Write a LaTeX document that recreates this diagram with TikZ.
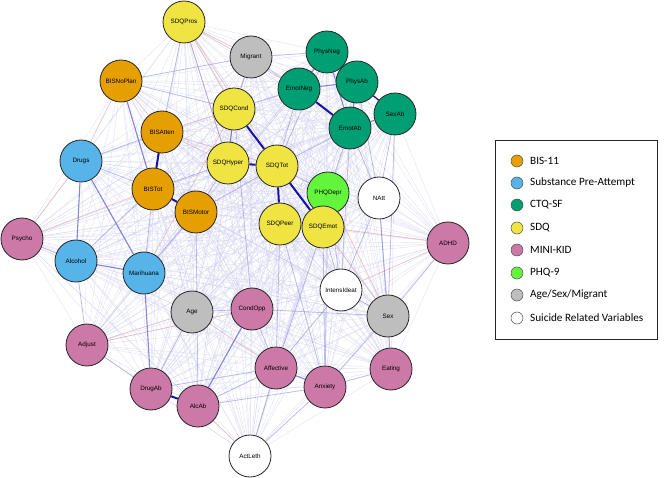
\documentclass[tikz,border=0pt]{standalone}
\usepackage{fontspec}
\setmainfont{Liberation Sans}
\newfontfamily\legfont{Carlito}
\usetikzlibrary{backgrounds}
\definecolor{cbis}{HTML}{E69F00}
\definecolor{csub}{HTML}{56B4E9}
\definecolor{cctq}{HTML}{009E73}
\definecolor{csdq}{HTML}{F0E442}
\definecolor{cmini}{HTML}{CC79A7}
\definecolor{cphq}{HTML}{62F53C}
\definecolor{cgray}{HTML}{BEBEBE}
\definecolor{faintblue}{RGB}{205,205,238}
\definecolor{edgeblue}{RGB}{80,80,210}
\definecolor{strongblue}{RGB}{20,20,170}
\definecolor{edgered}{RGB}{225,165,170}
\tikzset{
  var/.style={circle,draw=black!85,line width=0.8pt,minimum size=42pt,inner sep=0pt,
    font=\fontsize{6.3}{7}\selectfont},
  faint/.style={draw=faintblue,line width=0.4pt,opacity=0.6},
  light/.style={draw=edgeblue,line width=0.8pt,opacity=0.3},
  medium/.style={draw=edgeblue,line width=1.1pt,opacity=0.65},
  strong/.style={draw=strongblue,line width=2pt},
  redl/.style={draw=edgered,line width=0.8pt,opacity=0.5},
  legdot/.style={circle,draw=black!70,line width=0.5pt,minimum size=12pt,inner sep=0pt},
  legtext/.style={anchor=west,font=\legfont\fontsize{11.2}{13}\selectfont,inner sep=0pt}
}
\begin{document}
\begin{tikzpicture}[x=1pt,y=-1pt]
\useasboundingbox (0,0) rectangle (669,478);
% nodes
\node[var,fill=csdq] (SDQPros) at (184,22) {SDQPros};
\node[var,fill=cgray] (Migrant) at (251,57) {Migrant};
\node[var,fill=cctq] (PhysNeg) at (327,52) {PhysNeg};
\node[var,fill=cctq] (EmotNeg) at (299,89) {EmotNeg};
\node[var,fill=cctq] (PhysAb) at (357,82) {PhysAb};
\node[var,fill=cctq] (SexAb) at (395,114) {SexAb};
\node[var,fill=cctq] (EmotAb) at (350,128) {EmotAb};
\node[var,fill=cbis] (BISNoPlan) at (121,81) {BISNoPlan};
\node[var,fill=cbis] (BISAtten) at (162,132) {BISAtten};
\node[var,fill=csdq] (SDQCond) at (234,109) {SDQCond};
\node[var,fill=csdq] (SDQHyper) at (228,163) {SDQHyper};
\node[var,fill=csdq] (SDQTot) at (277,166) {SDQTot};
\node[var,fill=cphq] (PHQDepr) at (328,193) {PHQDepr};
\node[var,fill=white] (NAtt) at (379,198) {NAtt};
\node[var,fill=csdq] (SDQPeer) at (280,224) {SDQPeer};
\node[var,fill=csdq] (SDQEmot) at (323,227) {SDQEmot};
\node[var,fill=csub] (Drugs) at (81,161) {Drugs};
\node[var,fill=cbis] (BISTot) at (153,189) {BISTot};
\node[var,fill=cbis] (BISMotor) at (196,212) {BISMotor};
\node[var,fill=cmini] (Psycho) at (22,239) {Psycho};
\node[var,fill=csub] (Alcohol) at (76,261) {Alcohol};
\node[var,fill=csub] (Marihuana) at (144,273) {Marihuana};
\node[var,fill=cmini] (ADHD) at (448,243) {ADHD};
\node[var,fill=cgray] (Age) at (192,312) {Age};
\node[var,fill=cmini] (CondOpp) at (252,309) {CondOpp};
\node[var,fill=white] (IntensIdeat) at (341,290) {IntensIdeat};
\node[var,fill=cgray] (Sex) at (388,316) {Sex};
\node[var,fill=cmini] (Adjust) at (87,345) {Adjust};
\node[var,fill=cmini] (DrugAb) at (151,389) {DrugAb};
\node[var,fill=cmini] (AlcAb) at (198,406) {AlcAb};
\node[var,fill=cmini] (Affective) at (276,368) {Affective};
\node[var,fill=cmini] (Anxiety) at (325,387) {Anxiety};
\node[var,fill=cmini] (Eating) at (391,369) {Eating};
\node[var,fill=white] (ActLeth) at (250,456) {ActLeth};
% edges
\begin{pgfonlayer}{background}
\foreach \a [count=\i] in {SDQPros,Migrant,PhysNeg,EmotNeg,PhysAb,SexAb,EmotAb,BISNoPlan,BISAtten,SDQCond,SDQHyper,SDQTot,PHQDepr,NAtt,SDQPeer,SDQEmot,Drugs,BISTot,BISMotor,Psycho,Alcohol,Marihuana,ADHD,Age,CondOpp,IntensIdeat,Sex,Adjust,DrugAb,AlcAb,Affective,Anxiety,Eating,ActLeth}{
  \foreach \b [count=\j] in {SDQPros,Migrant,PhysNeg,EmotNeg,PhysAb,SexAb,EmotAb,BISNoPlan,BISAtten,SDQCond,SDQHyper,SDQTot,PHQDepr,NAtt,SDQPeer,SDQEmot,Drugs,BISTot,BISMotor,Psycho,Alcohol,Marihuana,ADHD,Age,CondOpp,IntensIdeat,Sex,Adjust,DrugAb,AlcAb,Affective,Anxiety,Eating,ActLeth}{
    \ifnum\j>\i \draw[faint] (\a) -- (\b); \fi
  }
}
% red edges
\foreach \a/\b in {SDQPros/SDQCond,SDQPros/EmotNeg,SDQPros/SDQHyper,SDQPros/SDQTot,SDQPros/Migrant,BISNoPlan/BISAtten,BISAtten/SDQHyper,BISAtten/SDQCond,BISAtten/SDQTot,ADHD/IntensIdeat,ADHD/SDQEmot,Psycho/BISTot,Psycho/Drugs,Age/Adjust,Age/Affective,Marihuana/SDQCond,Adjust/CondOpp,Sex/PHQDepr,Sex/SDQEmot,BISNoPlan/Drugs,Migrant/SDQCond,ActLeth/AlcAb}
  \draw[redl] (\a) -- (\b);
% light blue edges
\foreach \a/\b in {BISNoPlan/Migrant,BISNoPlan/SDQCond,Migrant/PhysNeg,Migrant/EmotNeg,Migrant/SDQCond,SDQPros/BISAtten,SDQPros/SDQHyper,
  Anxiety/Eating,Eating/Sex,ADHD/Sex,CondOpp/Sex,Age/CondOpp,AlcAb/Anxiety,AlcAb/Affective,DrugAb/Affective,
  SDQEmot/Affective,SDQPeer/Anxiety,PHQDepr/Anxiety,IntensIdeat/Affective,NAtt/Sex,NAtt/Eating,EmotAb/IntensIdeat,
  SDQCond/CondOpp,Psycho/Alcohol,Drugs/BISTot,BISMotor/SDQHyper,SDQTot/PHQDepr,SDQTot/EmotNeg,SDQHyper/SDQCond,
  Age/DrugAb,BISMotor/Marihuana,BISTot/Marihuana,SDQTot/EmotAb,EmotAb/PHQDepr,EmotAb/NAtt,SexAb/NAtt,PHQDepr/IntensIdeat,
  SDQEmot/Anxiety,SDQEmot/IntensIdeat,NAtt/IntensIdeat,SDQPeer/Affective,BISMotor/SDQTot,Alcohol/Adjust,Alcohol/BISTot,
  DrugAb/Adjust,CondOpp/Affective,EmotNeg/SDQCond,PhysNeg/SDQTot,Sex/Anxiety,Sex/IntensIdeat,AlcAb/BISMotor,
  ActLeth/Affective,ActLeth/Anxiety,Drugs/BISAtten,SDQHyper/BISTot,PhysAb/NAtt,SexAb/Sex}
  \draw[light] (\a) -- (\b);
% medium blue edges
\foreach \a/\b in {BISNoPlan/BISTot,Drugs/Alcohol,Drugs/Marihuana,Alcohol/Marihuana,Marihuana/DrugAb,PhysNeg/EmotNeg,
  PhysNeg/PhysAb,PhysNeg/EmotAb,PhysAb/EmotAb,EmotNeg/PhysAb,EmotAb/SexAb,Affective/Anxiety,CondOpp/AlcAb,
  SDQPeer/SDQEmot,PHQDepr/SDQEmot,SDQHyper/SDQCond}
  \draw[medium] (\a) -- (\b);
\draw[strong,line width=1.3pt] (PhysAb) -- (SexAb);
% strong edges
\foreach \a/\b in {BISTot/BISMotor,SDQCond/SDQTot,SDQTot/SDQEmot,EmotNeg/EmotAb,DrugAb/AlcAb,SDQHyper/SDQTot,SDQTot/SDQPeer,BISAtten/BISTot}
  \draw[strong] (\a) -- (\b);
\end{pgfonlayer}
% legend
\draw[line width=0.8pt,draw=black!85] (495,140) rectangle (657,339);
\foreach \c/\t/\y [count=\k] in {cbis/BIS-11/161,csub/Substance Pre-Attempt/183,cctq/CTQ-SF/205,csdq/SDQ/228,cmini/MINI-KID/250,cphq/PHQ-9/273,cgray/Age\slash Sex\slash Migrant/295,white/Suicide Related Variables/318}{
  \node[legdot,fill=\c] (ld\k) at (517,\y) {};
  \node[legtext] (lt\k) at (530,\y) {\t};
}
\end{tikzpicture}
\end{document}
